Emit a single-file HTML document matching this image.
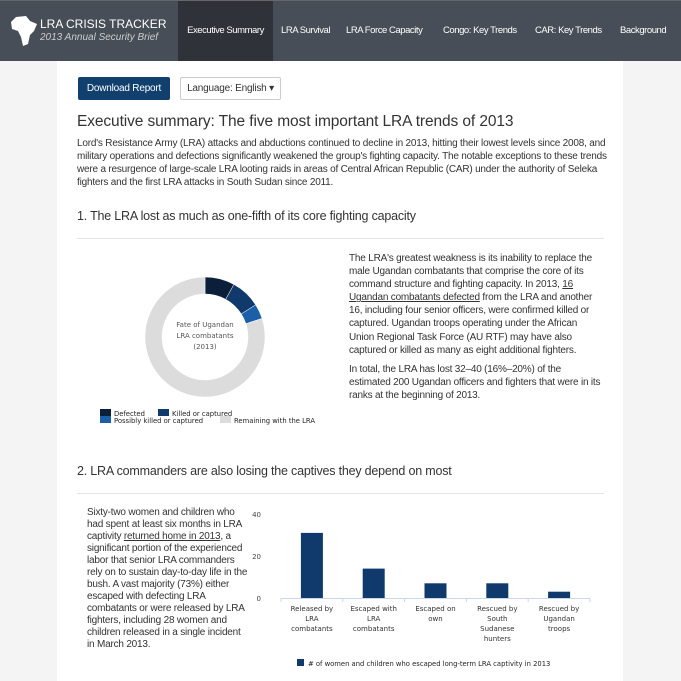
<!DOCTYPE html>
<html><head><meta charset="utf-8"><style>
*{box-sizing:border-box}
body{margin:0;width:681px;height:681px;overflow:hidden;background:#f4f4f5;font-family:"Liberation Sans",sans-serif;color:#333}
#nav{position:absolute;left:0;top:0;width:681px;height:61px;background:#484e57;border-top:1px solid #666}
.tab{position:absolute;top:0;height:60px;line-height:60px;color:#fff;font-size:9.5px;letter-spacing:-0.45px}
#page{position:absolute;left:57px;top:61px;width:566px;height:620px;background:#fff}
.abs{position:absolute}
p{margin:0}
.t{font-size:10px;line-height:13.1px;color:#333;letter-spacing:-0.2px}
u{text-decoration:underline}
</style></head><body>
<div id="nav">
  <div class="abs" style="left:10px;top:14px">
    <svg width="30" height="32" viewBox="0 0 30 32"><path d="M6 2 L16 1 L20 6 L27 9 L24 16 L20 20 L18 29 L13 31 L11 22 L8 16 L2 14 L1 7 Z" fill="#fff"/></svg>
  </div>
  <div class="abs" style="left:40px;top:16px;color:#fff;font-size:12px;letter-spacing:0px">LRA CRISIS TRACKER</div>
  <div class="abs" style="left:40px;top:31px;color:#ccc;font-size:10px;font-style:italic">2013 Annual Security Brief</div>
  <div class="tab" style="left:178px;width:95px;background:#2f3238;text-align:center">Executive Summary</div>
  <div class="tab" style="left:281px">LRA Survival</div>
  <div class="tab" style="left:346px">LRA Force Capacity</div>
  <div class="tab" style="left:443px">Congo: Key Trends</div>
  <div class="tab" style="left:535px">CAR: Key Trends</div>
  <div class="tab" style="left:620px">Background</div>
</div>
<div id="page">
  <div class="abs" style="left:21px;top:16px;width:92px;height:23px;background:#11406e;border-radius:2px;color:#fff;font-size:10px;line-height:23px;text-align:center;letter-spacing:-0.2px">Download Report</div>
  <div class="abs" style="left:123px;top:16px;width:101px;height:23px;border:1px solid #ccc;border-radius:2px;font-size:10px;line-height:21px;text-align:center;letter-spacing:-0.2px">Language: English ▾</div>
  <div class="abs" style="left:20px;top:52px;font-size:15.5px;color:#333;letter-spacing:-0.1px">Executive summary: The five most important LRA trends of 2013</div>
  <p class="abs t" style="left:20px;top:76px;width:540px">Lord's Resistance Army (LRA) attacks and abductions continued to decline in 2013, hitting their lowest levels since 2008, and military operations and defections significantly weakened the group's fighting capacity. The notable exceptions to these trends were a resurgence of large-scale LRA looting raids in areas of Central African Republic (CAR) under the authority of Seleka fighters and the first LRA attacks in South Sudan since 2011.</p>
  <div class="abs" style="left:20px;top:148px;font-size:12.5px;letter-spacing:-0.2px">1. The LRA lost as much as one-fifth of its core fighting capacity</div>
  <div class="abs" style="left:20px;top:177px;width:527px;border-top:1px solid #e5e5e5"></div>
  <svg class="abs" style="left:30px;top:190px" width="260" height="180" id="donut"></svg>
  <div class="abs t" style="left:292px;top:191px;width:255px">
    <p>The LRA's greatest weakness is its inability to replace the male Ugandan combatants that comprise the core of its command structure and fighting capacity. In 2013, <u>16 Ugandan combatants defected</u> from the LRA and another 16, including four senior officers, were confirmed killed or captured. Ugandan troops operating under the African Union Regional Task Force (AU RTF) may have also captured or killed as many as eight additional fighters.</p>
    <p style="margin-top:6px">In total, the LRA has lost 32–40 (16%–20%) of the estimated 200 Ugandan officers and fighters that were in its ranks at the beginning of 2013.</p>
  </div>
  <div class="abs" style="left:20px;top:403px;font-size:12.5px;letter-spacing:-0.2px">2. LRA commanders are also losing the captives they depend on most</div>
  <div class="abs" style="left:20px;top:432px;width:527px;border-top:1px solid #e5e5e5"></div>
  <p class="abs t" style="left:30px;top:446px;width:162px;line-height:12px">Sixty-two women and children who had spent at least six months in LRA captivity <u>returned home in 2013</u>, a significant portion of the experienced labor that senior LRA commanders rely on to sustain day-to-day life in the bush. A vast majority (73%) either escaped with defecting LRA combatants or were released by LRA fighters, including 28 women and children released in a single incident in March 2013.</p>
  <svg class="abs" style="left:190px;top:440px" width="370" height="180" id="bars"></svg>
</div>
<script>
const sliceLabels=["Defected","Killed or captured","Possibly killed or captured","Remaining with the LRA"];
const sliceValues=[16,16,8,160];
const sliceColors=["#0c1f3a","#0f3a6b","#1a5fa8","#dcdcdc"];
const barCats=[["Released by","LRA","combatants"],["Escaped with","LRA","combatants"],["Escaped on","own"],["Rescued by","South","Sudanese","hunters"],["Rescued by","Ugandan","troops"]];
const barValues=[31,14,7,7,3];
const yTicks=[0,20,40];
const NS="http://www.w3.org/2000/svg";
function mk(p,t,a){const e=document.createElementNS(NS,t);for(const k in a)e.setAttribute(k,a[k]);p.appendChild(e);return e;}
const d=document.getElementById('donut');
const cx=118,cy=86,R=60,r=43;
const tot=sliceValues.reduce((a,b)=>a+b,0);
let ang=0;
sliceValues.forEach((v,i)=>{
  const a0=ang,a1=ang+v/tot*2*Math.PI;ang=a1;
  const p=(rad,a)=>[cx+rad*Math.sin(a),cy-rad*Math.cos(a)];
  const L=(a1-a0)>Math.PI?1:0;
  const [x0,y0]=p(R,a0),[x1,y1]=p(R,a1),[x2,y2]=p(r,a1),[x3,y3]=p(r,a0);
  const s=mk(d,'path',{d:`M${x0},${y0}A${R},${R} 0 ${L} 1 ${x1},${y1}L${x2},${y2}A${r},${r} 0 ${L} 0 ${x3},${y3}Z`,fill:sliceColors[i],stroke:'#fff','stroke-width':0.5});
  
  
});
["Fate of Ugandan","LRA combatants","(2013)"].forEach((t,i)=>{
  const e=mk(d,'text',{x:cx,y:cy-10+i*11,'text-anchor':'middle','font-size':7,fill:'#555','font-family':'DejaVu Sans, sans-serif'});e.textContent=t;
  
  
});
const legPos=[[13,159],[71,159],[13,166],[133,166]];
sliceLabels.forEach((t,i)=>{
  const g=mk(d,'g',{});
  
  
  mk(g,'rect',{x:legPos[i][0],y:legPos[i][1]-1,width:11,height:7,fill:sliceColors[i]});
  const e=mk(g,'text',{x:legPos[i][0]+14,y:legPos[i][1]+6,'font-size':6.8,fill:'#222','font-family':'DejaVu Sans, sans-serif'});e.textContent=t;
});
const b=document.getElementById('bars');
const x0=34,x1=343,yb=97,ymax=40,hpx=84;
const ys=v=>yb-v/ymax*hpx;
const bw=(x1-x0)/barValues.length;
yTicks.forEach(t=>{const e=mk(b,'text',{x:14,y:ys(t)+3,'text-anchor':'end','font-size':7,fill:'#444','font-family':'DejaVu Sans, sans-serif'});e.textContent=t;
  
  });
mk(b,'line',{x1:x0,x2:x1,y1:yb+0.5,y2:yb+0.5,stroke:'#ccd6eb'});
for(let i=0;i<=barValues.length;i++)mk(b,'line',{x1:x0+i*bw,x2:x0+i*bw,y1:yb,y2:yb+4,stroke:'#ccd6eb'});
barValues.forEach((v,i)=>{
  const cxb=x0+bw*(i+0.5);
  const rc=mk(b,'rect',{x:cxb-11,y:ys(v),width:22,height:yb-ys(v),fill:'#0f3a6b'});
  
  
  barCats[i].forEach((l,j)=>{const e=mk(b,'text',{x:cxb,y:yb+13+j*10,'text-anchor':'middle','font-size':7,fill:'#333','font-family':'DejaVu Sans, sans-serif'});e.textContent=l;
    
    });
});
const lg=mk(b,'g',{});


mk(lg,'rect',{x:50,y:158,width:7,height:7,fill:'#0f3a6b'});
const lt=mk(lg,'text',{x:61,y:165,'font-size':6.8,fill:'#222','font-family':'DejaVu Sans, sans-serif'});lt.textContent="# of women and children who escaped long-term LRA captivity in 2013";
</script>
</body></html>
